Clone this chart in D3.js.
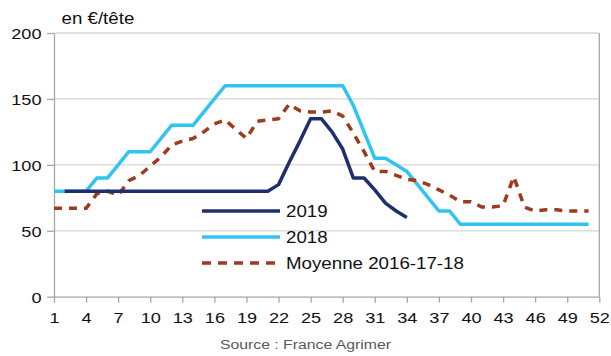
<!DOCTYPE html>
<html>
<head>
<meta charset="utf-8">
<script src="https://cdn.jsdelivr.net/npm/d3@7"></script>
<style>
  html, body { margin: 0; padding: 0; background: #ffffff; }
  svg { display: block; font-family: "Liberation Sans", Arial, sans-serif; }
</style>
</head>
<body>
<svg id="chart" width="611" height="356"></svg>
<script>
// Prix moyen hebdomadaire (en €/tête)
const weeksFull = d3.range(1, 52);          // semaines 1 à 51
const weeks2019 = d3.range(2, 35);          // semaines 2 à 34

const values2018 = [
  80, 80, 80, 80, 90, 90, 100, 110, 110, 110,
  120, 130, 130, 130, 140, 150, 160, 160, 160, 160,
  160, 160, 160, 160, 160, 160, 160, 160, 145, 125,
  105, 105, 100, 95, 85, 75, 65, 65, 55, 55,
  55, 55, 55, 55, 55, 55, 55, 55, 55, 55, 55
];

const values2019 = [
  80, 80, 80, 80, 80, 80, 80, 80, 80, 80,
  80, 80, 80, 80, 80, 80, 80, 80, 80, 80,
  85, 102, 118, 135, 135, 125, 112, 90, 90, 81,
  71, 65, 60
];

const valuesMoyenne = [
  67, 67, 67, 67, 78, 80, 77, 88, 92, 99,
  106, 115, 118, 120, 125, 131, 134, 127, 120, 133,
  134, 135, 146, 141, 140, 140, 141, 137, 124, 110,
  95, 95, 92, 89, 88, 85, 81, 77, 72, 72,
  68, 68, 69, 91, 68, 65, 66, 66, 65, 65, 65
];

const xTicks = d3.range(1, 53, 3);
const yTicks = [0, 50, 100, 150, 200];

const seriesNames = ["2019", "2018", "Moyenne 2016-17-18"];

const colors = {
  navy: "#1f2f6e",
  sky: "#30c4f2",
  brown: "#9c3b1d",
  axis: "#a6a6a6",
  grid: "#d6d6d6"
};

const STRETCH = 1.17;

const svg = d3.select("#chart");

const plot = { left: 54, right: 599.3, top: 33, bottom: 296.7 };

const x = d3.scaleLinear().domain([1, 52]).range([plot.left, plot.right]);
const y = d3.scaleLinear().domain([0, 200]).range([plot.bottom, plot.top]);

// grid
svg.append("g")
  .selectAll("line")
  .data(yTicks.filter(d => d > 0))
  .join("line")
  .attr("x1", plot.left).attr("x2", plot.right)
  .attr("y1", d => y(d)).attr("y2", d => y(d))
  .attr("stroke", colors.grid).attr("stroke-width", 1.3);

// right frame
svg.append("line")
  .attr("x1", plot.right).attr("x2", plot.right)
  .attr("y1", plot.top).attr("y2", plot.bottom)
  .attr("stroke", colors.axis).attr("stroke-width", 1.3);

// x axis
const gx = svg.append("g")
  .attr("transform", `translate(0,${plot.bottom})`)
  .call(d3.axisBottom(x).tickValues(xTicks).tickSizeInner(6).tickSizeOuter(0).tickFormat(d3.format("d")));
gx.select(".domain").attr("stroke", colors.axis).attr("stroke-width", 1.3);
gx.selectAll(".tick line").attr("stroke", colors.axis).attr("stroke-width", 1.3);
gx.selectAll(".tick text")
  .attr("y", 26.5).attr("dy", null)
  .attr("transform", `scale(${STRETCH},1)`)
  .attr("fill", "#111").attr("font-size", 15.5)
  .attr("font-family", "Liberation Sans, Arial, sans-serif");

// y axis
const gy = svg.append("g")
  .attr("transform", `translate(${plot.left},0)`)
  .call(d3.axisLeft(y).tickValues(yTicks).tickSizeInner(7).tickSizeOuter(0).tickFormat(d3.format("d")));
gy.select(".domain").attr("stroke", colors.axis).attr("stroke-width", 1.3);
gy.selectAll(".tick line").attr("stroke", colors.axis).attr("stroke-width", 1.3);
gy.selectAll(".tick text")
  .attr("x", -12.5 / STRETCH).attr("dy", "0.36em")
  .attr("transform", `scale(${STRETCH},1)`)
  .attr("fill", "#111").attr("font-size", 15.5)
  .attr("font-family", "Liberation Sans, Arial, sans-serif");

// unit label
svg.append("text")
  .attr("transform", `translate(61.5,24) scale(${STRETCH},1)`)
  .attr("font-size", 16).attr("fill", "#111")
  .text("en €/tête");

// lines
const line = d3.line().x(d => x(d[0])).y(d => y(d[1]));

const paths = [
  { data: d3.zip(weeksFull, values2018), color: colors.sky, dash: null },
  { data: d3.zip(weeksFull, valuesMoyenne), color: colors.brown, dash: "8,7" },
  { data: d3.zip(weeks2019, values2019), color: colors.navy, dash: null }
];

svg.append("g")
  .selectAll("path")
  .data(paths)
  .join("path")
  .attr("d", d => line(d.data))
  .attr("fill", "none")
  .attr("stroke", d => d.color)
  .attr("stroke-width", 3.5)
  .attr("stroke-linejoin", "round")
  .attr("stroke-dasharray", d => d.dash);

// legend
const legendItems = [
  { name: seriesNames[0], color: colors.navy, dash: null },
  { name: seriesNames[1], color: colors.sky, dash: null },
  { name: seriesNames[2], color: colors.brown, dash: "9,7" }
];

const lg = svg.append("g")
  .selectAll("g")
  .data(legendItems)
  .join("g")
  .attr("transform", (d, i) => `translate(202,${211 + i * 26})`);

lg.append("line")
  .attr("x1", 0).attr("x2", 78)
  .attr("stroke", d => d.color)
  .attr("stroke-width", 3.6)
  .attr("stroke-dasharray", d => d.dash);

lg.append("text")
  .attr("transform", `translate(84,6.3) scale(${STRETCH},1)`)
  .attr("font-size", 16).attr("fill", "#111")
  .text(d => d.name);

// source
svg.append("text")
  .attr("transform", `translate(305.5,349) scale(${STRETCH},1)`)
  .attr("text-anchor", "middle")
  .attr("font-size", 13.5).attr("fill", "#595959")
  .text("Source : France Agrimer");
</script>
</body>
</html>
